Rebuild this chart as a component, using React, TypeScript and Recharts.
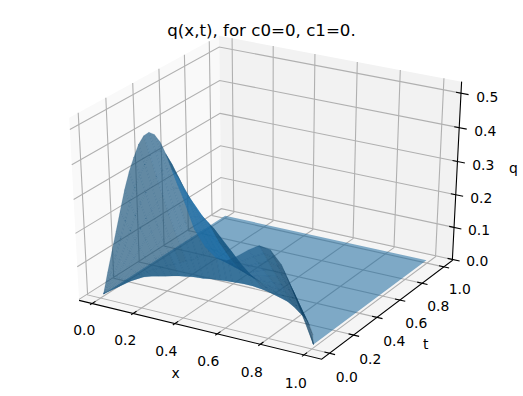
import React from "react";
import { ScatterChart, Scatter, XAxis, YAxis } from "recharts";

const xTicks = [0, 0.2, 0.4, 0.6, 0.8, 1];
const tTicks = [0, 0.2, 0.4, 0.6, 0.8, 1];
const qTicks = [0, 0.1, 0.2, 0.3, 0.4, 0.5];

const xLabelSpots = [[84.3, 330], [125.3, 340], [166.3, 351], [208.3, 361], [251.7, 372], [295.7, 383]];
const tLabelSpots = [[346.7, 377], [370.3, 359], [394.3, 341], [416.3, 323], [438.3, 306], [459.7, 288.7]];
const qLabelSpots = [[477.3, 260.7], [479, 230], [481.3, 197.7], [483.3, 165.3], [485.3, 131.3], [487.3, 97.3]];

const xCols = [0, .025, .05, .075, .1, .125, .15, .175, .2, .225, .25, .275, .3, .325, .35, .375, .4, .45, .5, .55, .6, .65, .7, .75, .8, .85, .9, .95, 1];
const tEnd = [0, .17, .235, .26, .275, .29, .305, .32, .33, .34, .345, .35, .36, .365, .37, .375, .38, .385, .385, .375, .36, .34, .32, .285, .245, .205, .15, .085, 0];
const uRows = [0, .125, .25, .375, .5, .625, .75, .875, 1];

const q0 = [0, .07, .135, .2, .265, .33, .385, .43, .47, .497, .51, .507, .49, .46, .42, .38, .345, .26, .215, .19, .189, .21, .235, .255, .25, .215, .15, .075, 0];
const q1 = [0, .06, .116, .172, .228, .284, .331, .37, .404, .432, .449, .451, .441, .419, .386, .353, .321, .242, .198, .171, .168, .185, .206, .223, .219, .188, .131, .066, 0];
const q2 = [0, .05, .097, .144, .191, .238, .277, .31, .338, .363, .383, .39, .387, .373, .344, .315, .29, .221, .178, .15, .146, .16, .176, .191, .188, .161, .113, .056, 0];
const q3 = [0, .041, .078, .116, .154, .191, .223, .249, .273, .298, .316, .324, .328, .322, .302, .281, .259, .198, .157, .129, .123, .132, .146, .158, .155, .133, .093, .047, 0];
const q4 = [0, .032, .061, .09, .119, .149, .173, .194, .212, .234, .25, .264, .274, .271, .26, .243, .228, .174, .135, .108, .1, .107, .118, .128, .125, .108, .075, .038, 0];
const q5 = [0, .023, .045, .066, .087, .109, .127, .142, .155, .174, .189, .203, .22, .225, .218, .209, .197, .151, .114, .087, .079, .082, .088, .096, .094, .081, .056, .028, 0];
const q6 = [0, .015, .03, .044, .058, .073, .085, .095, .103, .119, .133, .147, .167, .175, .172, .167, .162, .125, .09, .067, .057, .057, .059, .064, .063, .054, .038, .019, 0];
const q7 = [0, .008, .015, .022, .029, .036, .042, .047, .052, .06, .066, .076, .088, .101, .105, .106, .104, .078, .056, .038, .03, .029, .029, .032, .031, .027, .019, .009, 0];
const q8 = xCols.map(() => 0);
const qRows = [q0, q1, q2, q3, q4, q5, q6, q7, q8];

type P = [number, number, number];
function project(bx: number, by: number, bz: number): P {
  const a = bx - 0.5, b = by - 0.5, c = bz - 0.5;
  const xc = 0.866025 * a + 0.5 * b;
  const yc = -0.25 * a + 0.433013 * b + 0.866025 * c;
  const zc = 0.433013 * a - 0.75 * b + 0.5 * c;
  const w = 10 - zc;
  return [268.6 + 2800 * xc / w, 192 - 2085 * yc / w, zc];
}
const tickX = (x: number) => 0.056 + 0.874 * x;
const boxZ = (q: number) => (q + 0.003) / 0.536;
const surf = (x: number, t: number, q: number) => project(0.05 + 0.87 * x, 0.085 + 0.86 * t, boxZ(q));

type Mark = { px: number; py: number; pts: number[][]; fill: string; stroke: string; sw: number; op: number; sop: number };
function mark(points: number[][], fill: string, stroke: string, sw: number, op = 1, sop = 1): Mark {
  const n = points.length;
  const px = points.reduce((s, p) => s + p[0], 0) / n;
  const py = points.reduce((s, p) => s + p[1], 0) / n;
  return { px, py, pts: points, fill, stroke, sw, op, sop };
}
const PathShape = (props: any) => {
  const d: Mark = props.payload ?? props;
  const dx = props.cx - d.px, dy = props.cy - d.py;
  const path = d.pts.map((p, i) => `${i ? "L" : "M"}${(p[0] + dx).toFixed(2)} ${(p[1] + dy).toFixed(2)}`).join("") + (d.fill === "none" ? "" : "Z");
  return <path d={path} fill={d.fill} fillOpacity={d.op} stroke={d.stroke} strokeWidth={d.sw} strokeOpacity={d.sop} />;
};
const TextShape = (props: any) => {
  const d = props.payload ?? props;
  return (
    <text x={props.cx} y={props.cy} textAnchor="middle" dominantBaseline="central" fontFamily="DejaVu Sans" fontSize={d.size} fill="#000">
      {d.label}
    </text>
  );
};

const panes = [
  mark([project(0, 0, 0), project(0, 1, 0), project(0, 1, 1), project(0, 0, 1)], "rgb(249,249,249)", "none", 0),
  mark([project(0, 1, 0), project(1, 1, 0), project(1, 1, 1), project(0, 1, 1)], "rgb(242,242,242)", "none", 0),
  mark([project(0, 0, 0), project(1, 0, 0), project(1, 1, 0), project(0, 1, 0)], "rgb(245,245,245)", "none", 0),
];
const gridColor = "#b0b0b0";
const gridLines = [
  ...xTicks.map((x) => mark([project(tickX(x), 0, 0), project(tickX(x), 1, 0), project(tickX(x), 1, 1)], "none", gridColor, 1.1)),
  ...tTicks.map((t) => mark([project(1, tickX(t), 0), project(0, tickX(t), 0), project(0, tickX(t), 1)], "none", gridColor, 1.1)),
  ...qTicks.map((q) => mark([project(0, 0, boxZ(q)), project(0, 1, boxZ(q)), project(1, 1, boxZ(q))], "none", gridColor, 1.1)),
];
const axisLines = [
  mark([project(0, 0, 0), project(1, 0, 0), project(1, 1, 0), project(1, 1, 1)], "none", "#000", 1.1),
  ...xTicks.map((x) => mark([project(tickX(x), -0.014, 0), project(tickX(x), 0.022, 0)], "none", "#000", 1.1)),
  ...tTicks.map((t) => mark([project(0.98, tickX(t), 0), project(1.022, tickX(t), 0)], "none", "#000", 1.1)),
  ...qTicks.map((q) => mark([project(0.98, 1, boxZ(q)), project(1.03, 1, boxZ(q))], "none", "#000", 1.1)),
];

const base = [31, 119, 180];
const SURFACE_ALPHA = 0.66;
const PLANE_ALPHA = 0.55;
const tint = (k: number) => `rgb(${base.map((c) => Math.round(c * k)).join(",")})`;
function shade(s: number, x: number, u: number) {
  if (x >= 0.35 && x < 0.55) return u < 0.5 ? 0.95 : 0.72;
  if (x < 0.35) return s >= 0 ? 0.66 : 0.7;
  return s >= 0 ? 0.74 : Math.max(0.58, 0.74 + 0.2 * s);
}
const planeCurve = xCols.map((x, i) => surf(x, tEnd[i], 0));
const plane = [mark([...planeCurve, surf(1, 1, 0), surf(0, 1, 0)], tint(0.88), "none", 0, PLANE_ALPHA)];

const cells: (Mark & { depth: number })[] = [];
for (let j = 0; j < uRows.length - 1; j++) {
  for (let i = 0; i < xCols.length - 1; i++) {
    const corner = (ii: number, jj: number) => ({ x: xCols[ii], t: tEnd[ii] * uRows[jj], q: qRows[jj][ii] });
    const c = [corner(i, j), corner(i + 1, j), corner(i + 1, j + 1), corner(i, j + 1)];
    const v1 = [c[2].x - c[0].x, c[2].t - c[0].t, c[2].q - c[0].q];
    const v2 = [c[3].x - c[1].x, c[3].t - c[1].t, c[3].q - c[1].q];
    const n = [v1[1] * v2[2] - v1[2] * v2[1], v1[2] * v2[0] - v1[0] * v2[2], v1[0] * v2[1] - v1[1] * v2[0]];
    const len = Math.hypot(n[0], n[1], n[2]) || 1;
    const s = (-n[0] - n[1] + 0.5 * n[2]) / len;
    const pts = c.map((p) => surf(p.x, p.t, p.q));
    const fill = tint(shade(s, xCols[i], uRows[j]));
    const m = mark(pts, fill, fill, 0.4, SURFACE_ALPHA, 0.3);
    cells.push({ ...m, depth: pts.reduce((a, p) => a + p[2], 0) / 4 });
  }
}
cells.sort((a, b) => a.depth - b.depth);

const titleText = [{ px: 261.5, py: 30, label: "q(x,t), for c0=0, c1=0.", size: 16.67 }];
const labels = [
  ...xTicks.map((v, i) => ({ px: xLabelSpots[i][0], py: xLabelSpots[i][1], label: v.toFixed(1), size: 13.9 })),
  ...tTicks.map((v, i) => ({ px: tLabelSpots[i][0], py: tLabelSpots[i][1], label: v.toFixed(1), size: 13.9 })),
  ...qTicks.map((v, i) => ({ px: qLabelSpots[i][0], py: qLabelSpots[i][1], label: v.toFixed(1), size: 13.9 })),
  { px: 175.7, py: 372.7, label: "x", size: 13.9 },
  { px: 425.7, py: 344, label: "t", size: 13.9 },
  { px: 513.3, py: 168.3, label: "q", size: 13.9 },
];

export default function App() {
  return (
    <div style={{ position: "absolute", left: 0, top: 0, width: 523, height: 396, background: "#fff" }}>
      <ScatterChart width={523} height={396} margin={{ top: 0, right: 0, bottom: 0, left: 0 }}>
        <XAxis type="number" dataKey="px" domain={[0, 523]} hide allowDataOverflow />
        <YAxis type="number" dataKey="py" domain={[0, 396]} reversed hide allowDataOverflow />
        <Scatter data={panes} shape={PathShape} isAnimationActive={false} />
        <Scatter data={gridLines} shape={PathShape} isAnimationActive={false} />
        <Scatter data={plane} shape={PathShape} isAnimationActive={false} />
        <Scatter data={cells} shape={PathShape} isAnimationActive={false} />
        <Scatter data={axisLines} shape={PathShape} isAnimationActive={false} />
        <Scatter data={titleText} shape={TextShape} isAnimationActive={false} />
        <Scatter data={labels} shape={TextShape} isAnimationActive={false} />
      </ScatterChart>
    </div>
  );
}
